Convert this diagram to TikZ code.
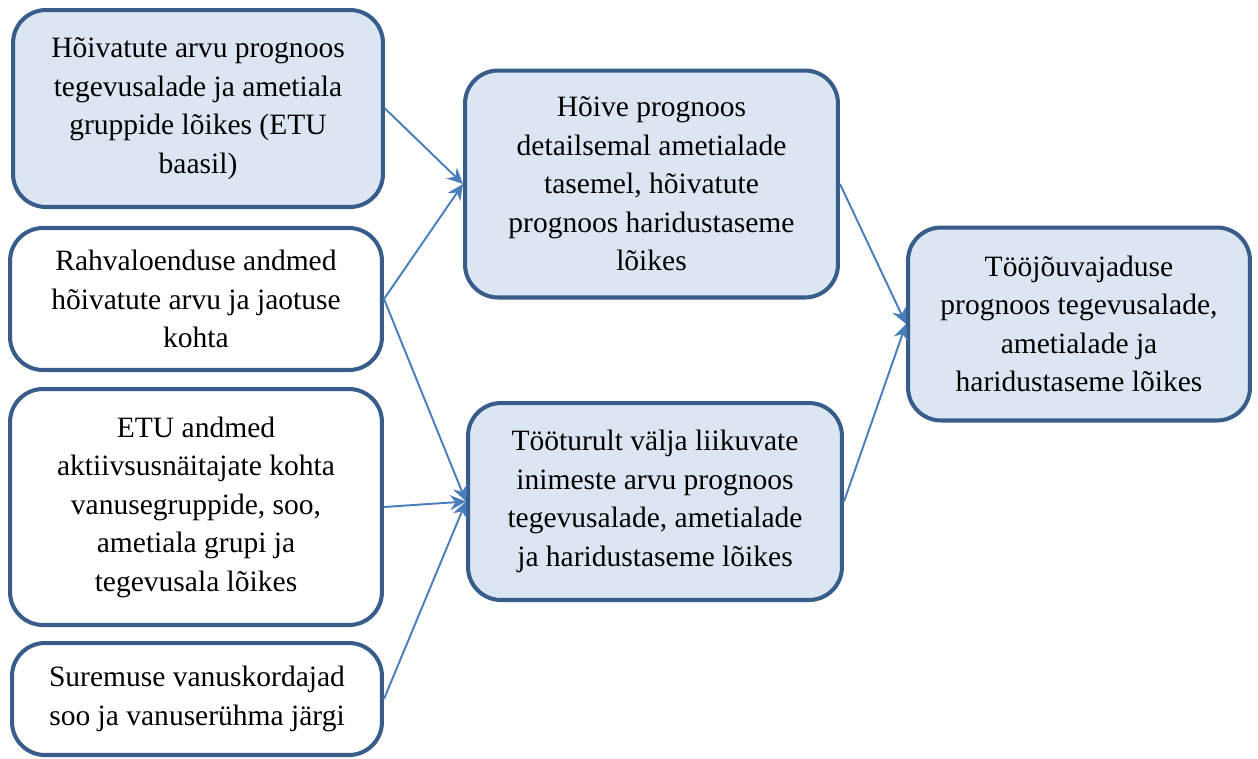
\documentclass[tikz,border=0pt]{standalone}
\usepackage{fontspec}
\setmainfont{Liberation Serif}
\usepackage{xcolor}
\usepackage{tikz}
\definecolor{progborder}{RGB}{56, 93, 138}
\definecolor{progfill}{RGB}{220, 230, 242}
\definecolor{progarrow}{RGB}{74, 126, 187}
\usetikzlibrary{arrows.meta,positioning}

\begin{document}
\begin{tikzpicture}[x=0.02cm, y=-0.02cm]
    % Define styles
    \tikzstyle{box} = [rectangle, rounded corners=0.66cm, draw=progborder, line width=2.3pt,
                       fill=white, align=center, inner sep=2pt,
                       font=\fontsize{16.8}{21.9}\selectfont]
    \tikzstyle{filledbox} = [box, fill=progfill]
    \tikzstyle{link} = [-{Stealth[length=9pt, width=8.5pt, inset=3pt]}, line width=1.1pt, progarrow]

    \useasboundingbox (0,0) rectangle (1258,758);

    % Nodes
    \node[filledbox, minimum width=7.40cm, minimum height=3.94cm] (hoivatud) at (198,108.5)
        {Hõivatute arvu prognoos\\tegevusalade ja ametiala\\gruppide lõikes (ETU\\baasil)};
    \node[box, minimum width=7.44cm, minimum height=2.84cm] (rahvaloendus) at (196,299)
        {Rahvaloenduse andmed\\hõivatute arvu ja jaotuse\\kohta};
    \node[box, minimum width=7.44cm, minimum height=4.72cm] (etuandmed) at (196,507)
        {ETU andmed\\aktiivsusnäitajate kohta\\vanusegruppide, soo,\\ametiala grupi ja\\tegevusala lõikes};
    \node[box, minimum width=7.40cm, minimum height=2.24cm] (suremus) at (197,699)
        {Suremuse vanuskordajad\\soo ja vanuserühma järgi};
    \node[filledbox, minimum width=7.46cm, minimum height=4.54cm] (hoiveprognoos) at (651.5,184)
        {Hõive prognoos\\detailsemal ametialade\\tasemel, hõivatute\\prognoos haridustaseme\\lõikes};
    \node[filledbox, minimum width=7.48cm, minimum height=3.94cm] (valjaliikumine) at (655,501.5)
        {Tööturult välja liikuvate\\inimeste arvu prognoos\\tegevusalade, ametialade\\ja haridustaseme lõikes};
    \node[filledbox, minimum width=6.84cm, minimum height=3.86cm] (toojoud) at (1079,324)
        {Tööjõuvajaduse\\prognoos tegevusalade,\\ametialade ja\\haridustaseme lõikes};

    % Connections
    \draw[link] (hoivatud.east) -- (hoiveprognoos.west);
    \draw[link] (rahvaloendus.east) -- (hoiveprognoos.west);
    \draw[link] (rahvaloendus.east) -- (valjaliikumine.west);
    \draw[link] (etuandmed.east) -- (valjaliikumine.west);
    \draw[link] (suremus.east) -- (valjaliikumine.west);
    \draw[link] (hoiveprognoos.east) -- (toojoud.west);
    \draw[link] (valjaliikumine.east) -- (toojoud.west);
\end{tikzpicture}
\end{document}
